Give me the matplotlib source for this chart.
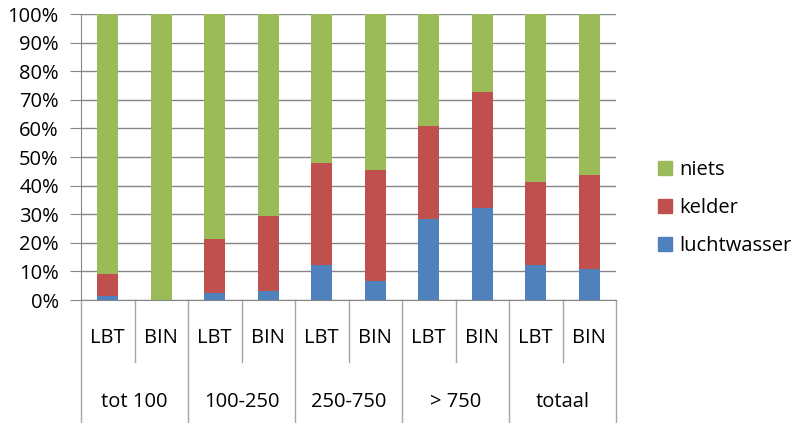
import matplotlib
matplotlib.use("Agg")
import matplotlib.pyplot as plt
from matplotlib.patches import Patch
from matplotlib.transforms import blended_transform_factory

plt.rcParams['font.family'] = ['Open Sans', 'DejaVu Sans']

# data (percentages)
groups = ['tot 100', '100-250', '250-750', '> 750', 'totaal']
sub_labels = ['LBT', 'BIN']
luchtwasser = [1.5, 0.0, 2.3, 3.0, 12.1, 6.6, 28.3, 32.3, 12.1, 10.7]
kelder = [7.6, 0.0, 18.9, 26.3, 35.9, 39.0, 32.7, 40.5, 29.3, 33.1]
niets = [100 - a - b for a, b in zip(luchtwasser, kelder)]

c_green = '#9BBB59'
c_red = '#C0504D'
c_blue = '#4F81BD'
grid_col = '#868686'
fs = 14.5

fig = plt.figure(figsize=(7.97, 4.23), dpi=100)
ax = fig.add_axes([81 / 797, 123 / 423, 535 / 797, 286 / 423])

x = list(range(len(luchtwasser)))
w = 0.39
bottom2 = luchtwasser
bottom3 = [a + b for a, b in zip(luchtwasser, kelder)]
ax.bar(x, luchtwasser, w, color=c_blue, zorder=3)
ax.bar(x, kelder, w, bottom=bottom2, color=c_red, zorder=3)
ax.bar(x, niets, w, bottom=bottom3, color=c_green, zorder=3)

ax.set_xlim(-0.5, len(x) - 0.5)
ax.set_ylim(0, 100)
ax.set_yticks(range(0, 101, 10))
ax.set_yticklabels([f'{v}%' for v in range(0, 101, 10)], fontsize=fs)
ax.yaxis.grid(True, color=grid_col, lw=1, zorder=0)
ax.tick_params(axis='y', length=8, color=grid_col, pad=8)
ax.set_xticks([])

for s in ['top', 'right']:
    ax.spines[s].set_visible(False)
ax.spines['left'].set_color(grid_col)
ax.spines['bottom'].set_color(grid_col)

# two level category axis
tr = blended_transform_factory(ax.transData, ax.transAxes)
for i in x:
    ax.text(i, -0.133, sub_labels[i % 2], transform=tr, ha='center', va='center', fontsize=fs)
for g, name in enumerate(groups):
    ax.text(2 * g + 0.5, -0.357, name, transform=tr, ha='center', va='center', fontsize=fs)
for g in range(len(groups)):
    ax.plot([2 * g + 0.5, 2 * g + 0.5], [0, -0.217], transform=tr, color='#A6A6A6', lw=1, clip_on=False)
for g in range(len(groups) + 1):
    ax.plot([2 * g - 0.5, 2 * g - 0.5], [0, -0.45], transform=tr, color='#A6A6A6', lw=1, clip_on=False)

handles = [Patch(color=c_green, label='niets'),
           Patch(color=c_red, label='kelder'),
           Patch(color=c_blue, label='luchtwasser')]
fig.legend(handles=handles, loc='center left', bbox_to_anchor=(658 / 797, 215 / 423),
           frameon=False, fontsize=fs, handlelength=0.7, handleheight=0.7,
           handletextpad=0.35, labelspacing=0.9, borderpad=0, borderaxespad=0)

fig.savefig('out.png', dpi=100)
